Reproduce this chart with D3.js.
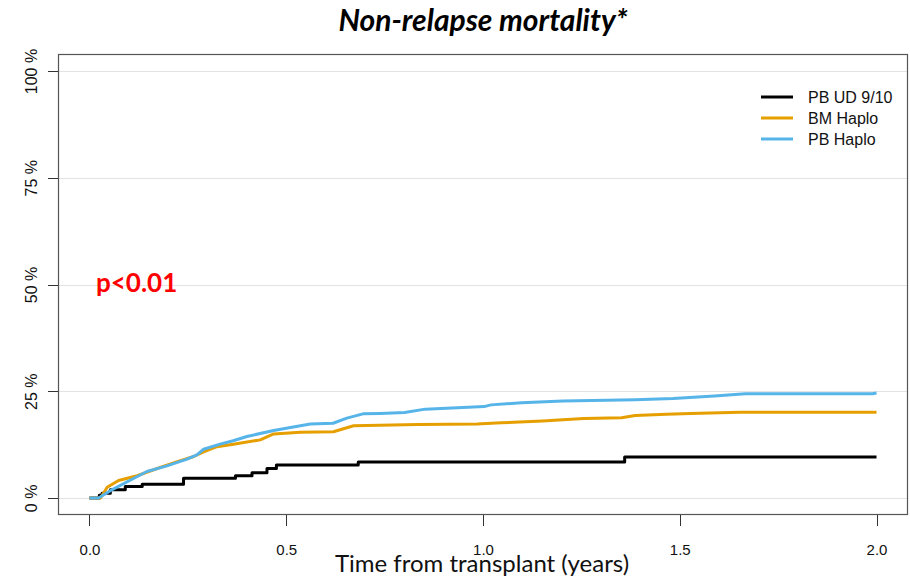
<!DOCTYPE html>
<html lang="en">
<head>
    <meta charset="UTF-8">
    <title>Non-relapse mortality</title>
    <script src="https://d3js.org/d3.v7.min.js"></script>
    <style>
    body{
        margin: 0;
        background: #fff;
    }
    .axis path,
    .axis line{
        fill: none;
        stroke: #333;
        shape-rendering: crispEdges;
    }
    .grid line{
        stroke: #e3e3e3;
        shape-rendering: crispEdges;
    }
    </style>
</head>
<body>
    <script>
    var width = 910;
    var height = 579;

    // data (time in years, cumulative incidence in %)
    var seriesNames = ["PB UD 9/10", "BM Haplo", "PB Haplo"];
    var seriesColors = ["#000000", "#E69F00", "#56B4E9"];

    var pbUdTime = [0, 0.025, 0.032, 0.053, 0.091, 0.134, 0.239, 0.371, 0.413, 0.451, 0.475, 0.683, 1.36, 2.0];
    var pbUdValue = [0, 0.6, 1.1, 1.9, 2.7, 3.2, 4.6, 5.2, 5.9, 6.9, 7.7, 8.4, 9.6, 9.6];

    var bmHaploTime = [0, 0.028, 0.045, 0.074, 0.121, 0.172, 0.223, 0.265, 0.290, 0.324, 0.366, 0.434, 0.468, 0.536, 0.620, 0.671, 0.835, 0.985, 1.046, 1.151, 1.203, 1.256, 1.352, 1.387, 1.466, 1.527, 1.654, 2.0];
    var bmHaploValue = [0, 0, 2.5, 4.1, 5.2, 6.9, 8.5, 9.7, 10.8, 12.0, 12.6, 13.6, 15.0, 15.4, 15.5, 16.9, 17.2, 17.3, 17.6, 18.0, 18.3, 18.6, 18.8, 19.3, 19.6, 19.8, 20.1, 20.1];

    var pbHaploTime = [0, 0.023, 0.053, 0.096, 0.146, 0.197, 0.248, 0.273, 0.290, 0.332, 0.365, 0.400, 0.468, 0.561, 0.619, 0.654, 0.695, 0.739, 0.801, 0.853, 1.003, 1.020, 1.098, 1.203, 1.387, 1.483, 1.588, 1.667, 1.99, 2.0];
    var pbHaploValue = [0, 0, 1.7, 3.8, 6.2, 7.5, 9.1, 10.1, 11.4, 12.6, 13.4, 14.4, 15.8, 17.3, 17.5, 18.7, 19.7, 19.8, 20.0, 20.8, 21.4, 21.8, 22.3, 22.7, 23.0, 23.3, 23.9, 24.4, 24.4, 24.6];

    var xTicks = [0, 0.5, 1.0, 1.5, 2.0];
    var yTicks = [0, 25, 50, 75, 100];

    var series = [
        {name: seriesNames[0], color: seriesColors[0], step: true, pts: d3.zip(pbUdTime, pbUdValue)},
        {name: seriesNames[1], color: seriesColors[1], step: false, pts: d3.zip(bmHaploTime, bmHaploValue)},
        {name: seriesNames[2], color: seriesColors[2], step: false, pts: d3.zip(pbHaploTime, pbHaploValue)}
    ];

    var svg = d3.select("body")
        .append("svg")
        .attr("width", width)
        .attr("height", height);

    // scales (R style 4% padding on both axes)
    var xScale = d3.scaleLinear()
        .domain([-0.08, 2.08])
        .range([58, 908]);

    var yScale = d3.scaleLinear()
        .domain([-4, 104])
        .range([515, 54]);

    // grid
    svg.append("g")
        .attr("class", "grid")
        .selectAll("line")
        .data(yTicks)
        .enter()
        .append("line")
        .attr("x1", 59)
        .attr("x2", 907)
        .attr("y1", function(d) { return Math.round(yScale(d)) + 0.5; })
        .attr("y2", function(d) { return Math.round(yScale(d)) + 0.5; });

    // frame
    svg.append("rect")
        .attr("x", 58.5)
        .attr("y", 54.5)
        .attr("width", 849)
        .attr("height", 460)
        .attr("fill", "none")
        .attr("stroke", "#555")
        .attr("stroke-width", 1.2);

    // axes
    var xAxis = d3.axisBottom(xScale)
        .tickValues(xTicks)
        .tickSize(11)
        .tickPadding(18)
        .tickFormat(d3.format(".1f"));

    var gx = svg.append("g")
        .attr("class", "axis")
        .attr("transform", "translate(0,515)")
        .call(xAxis);
    gx.select(".domain").remove();
    gx.selectAll("text")
        .attr("fill", "#111")
        .style("font-family", "'Liberation Sans Narrow', 'Arial Narrow', 'Liberation Sans', sans-serif")
        .style("font-size", "15px");

    var yAxis = d3.axisLeft(yScale)
        .tickValues(yTicks)
        .tickSize(10)
        .tickFormat(function(d) { return d + " %"; });

    var gy = svg.append("g")
        .attr("class", "axis")
        .attr("transform", "translate(58,0)")
        .call(yAxis);
    gy.select(".domain").remove();
    gy.selectAll("text")
        .attr("fill", "#111")
        .attr("x", null)
        .attr("dy", null)
        .attr("text-anchor", "middle")
        .attr("transform", "translate(-21,0) rotate(-90)")
        .style("font-family", "'Liberation Sans', Arial, sans-serif")
        .style("font-size", "16px");

    // curves
    series.forEach(function(s) {
        var line = d3.line()
            .x(function(d) { return xScale(d[0]); })
            .y(function(d) { return yScale(d[1]); })
            .curve(s.step ? d3.curveStepAfter : d3.curveLinear);
        svg.append("path")
            .datum(s.pts)
            .attr("fill", "none")
            .attr("stroke", s.color)
            .attr("stroke-width", 3)
            .attr("stroke-linejoin", "round")
            .attr("d", line);
    });

    // legend
    var legend = svg.append("g")
        .attr("transform", "translate(761,97)");
    series.forEach(function(s, i) {
        legend.append("line")
            .attr("x1", 0)
            .attr("x2", 32)
            .attr("y1", i * 21)
            .attr("y2", i * 21)
            .attr("stroke", s.color)
            .attr("stroke-width", 3);
        legend.append("text")
            .attr("x", 47)
            .attr("y", i * 21 + 6)
            .text(s.name)
            .style("font-family", "'Liberation Sans', Arial, sans-serif")
            .style("font-size", "16px")
            .attr("fill", "#111");
    });

    // p value
    svg.append("text")
        .attr("x", 96)
        .attr("y", 292)
        .text("p<0.01")
        .attr("fill", "#ff0000")
        .style("font-family", "Lato, 'Open Sans', sans-serif")
        .style("font-weight", "bold")
        .style("font-size", "26px");

    // title
    svg.append("text")
        .attr("x", 483)
        .attr("y", 31)
        .attr("text-anchor", "middle")
        .text("Non-relapse mortality*")
        .style("font-family", "Lato, 'Open Sans', sans-serif")
        .style("font-weight", "bold")
        .style("font-style", "italic")
        .style("font-size", "30px");

    // x axis title
    svg.append("text")
        .attr("x", 482)
        .attr("y", 572)
        .attr("text-anchor", "middle")
        .text("Time from transplant (years)")
        .style("font-family", "Lato, 'Open Sans', sans-serif")
        .style("font-size", "24px")
        .attr("fill", "#111");
    </script>
</body>
</html>
